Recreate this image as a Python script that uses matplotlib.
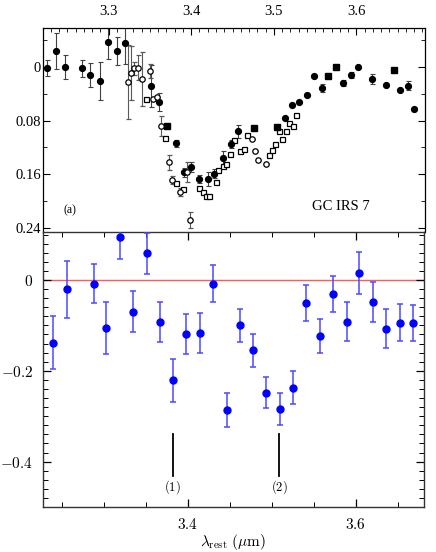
import matplotlib
matplotlib.use('Agg')
import matplotlib.pyplot as plt
from matplotlib.ticker import MultipleLocator, FixedLocator, FuncFormatter, FormatStrFormatter

plt.rcParams['mathtext.fontset'] = 'cm'

# --- top panel (a): GC IRS 7 optical depth, digitised ---
fc_lam = [3.225, 3.236, 3.247, 3.268, 3.278, 3.289, 3.299, 3.310, 3.320, 3.351, 3.361,
          3.381, 3.391, 3.400, 3.410, 3.420, 3.428, 3.438, 3.448, 3.457, 3.513, 3.522,
          3.530, 3.540, 3.549, 3.558, 3.584, 3.594, 3.602, 3.619, 3.636, 3.653, 3.662, 3.670]
fc_tau = [0.002, -0.024, 0.000, 0.002, 0.012, 0.021, -0.037, -0.024, -0.035, 0.028, 0.052,
          0.114, 0.157, 0.149, 0.167, 0.167, 0.159, 0.135, 0.115, 0.096, 0.076, 0.057,
          0.053, 0.042, 0.013, 0.032, 0.024, 0.012, 0.000, 0.018, 0.027, 0.035, 0.028, 0.063]
fc_err = [0.012, 0.027, 0.018, 0.013, 0.018, 0.029, 0.025, 0.021, 0.030, 0.031, 0.013,
          0.005, 0.007, 0.007, 0.006, 0.010, 0.007, 0.009, 0.006, 0.010, 0.0, 0.0,
          0.0, 0.0, 0.0, 0.006, 0.005, 0.005, 0.0, 0.007, 0.0, 0.0, 0.007, 0.0]

fs_lam = [3.371, 3.476, 3.504, 3.566, 3.575, 3.645]
fs_tau = [0.088, 0.091, 0.090, 0.013, 0.000, 0.005]

oc_lam = [3.323, 3.327, 3.331, 3.335, 3.340, 3.350, 3.354, 3.359, 3.363, 3.373, 3.377,
          3.386, 3.395, 3.399, 3.473, 3.477, 3.481, 3.490]
oc_tau = [0.023, 0.009, 0.002, 0.001, 0.018, 0.006, 0.048, 0.045, 0.088, 0.142, 0.168,
          0.186, 0.156, 0.228, 0.107, 0.125, 0.138, 0.144]
oc_err = [0.055, 0.040, 0.010, 0.019, 0.040, 0.010, 0.0, 0.0, 0.015, 0.011, 0.006,
          0.006, 0.015, 0.012, 0.0, 0.0, 0.0, 0.0]

os_lam = [3.345, 3.368, 3.381, 3.390, 3.409, 3.414, 3.418, 3.421, 3.430, 3.433, 3.438,
          3.442, 3.447, 3.452, 3.459, 3.464, 3.467, 3.494, 3.498, 3.502, 3.506, 3.510,
          3.515, 3.519, 3.523, 3.527]
os_tau = [0.048, 0.106, 0.173, 0.182, 0.181, 0.186, 0.192, 0.192, 0.172, 0.154, 0.147,
          0.144, 0.130, 0.109, 0.125, 0.123, 0.102, 0.132, 0.124, 0.115, 0.095, 0.107,
          0.096, 0.084, 0.088, 0.072]

# --- bottom panel: residual optical depth ---
lam = [3.240, 3.256, 3.288, 3.303, 3.319, 3.335, 3.351, 3.367, 3.382, 3.398, 3.414,
       3.430, 3.446, 3.462, 3.478, 3.493, 3.510, 3.525, 3.541, 3.557, 3.573, 3.589,
       3.604, 3.620, 3.636, 3.652, 3.668]
tau = [-0.138, -0.021, -0.008, -0.106, 0.095, -0.070, 0.059, -0.093, -0.221, -0.119, -0.117,
       -0.008, -0.286, -0.100, -0.155, -0.248, -0.284, -0.237, -0.051, -0.123, -0.031, -0.092,
       0.015, -0.048, -0.107, -0.094, -0.095]
err = [0.059, 0.062, 0.042, 0.058, 0.048, 0.045, 0.045, 0.044, 0.047, 0.045, 0.044,
       0.040, 0.037, 0.037, 0.036, 0.035, 0.036, 0.037, 0.040, 0.038, 0.040, 0.043,
       0.046, 0.044, 0.043, 0.040, 0.039]

feat_lam = [3.382, 3.509]
feat_lab = ['(1)', '(2)']

fig = plt.figure(figsize=(4.36, 5.52), dpi=100)
ax1 = fig.add_axes([0.0986, 0.5797, 0.8760, 0.3696])
ax2 = fig.add_axes([0.0986, 0.0815, 0.8738, 0.4982])

times = 'Liberation Serif'

# top panel
ax1.errorbar(fc_lam, fc_tau, yerr=fc_err, fmt='o', ms=4.2, color='black',
             ecolor='0.25', elinewidth=0.8, capsize=1.8, capthick=0.8)
ax1.errorbar(oc_lam, oc_tau, yerr=oc_err, fmt='o', ms=3.9, mfc='white', mec='black',
             mew=0.9, ecolor='0.35', elinewidth=0.8, capsize=1.8, capthick=0.8)
ax1.plot(os_lam, os_tau, 's', ms=3.6, mfc='white', mec='black', mew=0.9)
ax1.plot(fs_lam, fs_tau, 's', ms=3.8, color='black')

ax1.set_xlim(3.2205, 3.683)
ax1.set_ylim(0.246, -0.058)
ax1.xaxis.set_major_locator(MultipleLocator(0.1))
ax1.xaxis.set_minor_locator(MultipleLocator(0.01))
ax1.yaxis.set_major_locator(FixedLocator([0, 0.08, 0.16, 0.24]))
ax1.yaxis.set_minor_locator(MultipleLocator(0.04))
ax1.tick_params(axis='x', which='both', direction='in', top=True, bottom=False,
                labeltop=True, labelbottom=False, pad=7)
ax1.tick_params(axis='y', which='both', direction='in', left=True, right=True, pad=1.5)
ax1.tick_params(which='major', length=5, width=0.8)
ax1.tick_params(which='minor', length=3, width=0.6)
ax1.xaxis.set_major_formatter(FormatStrFormatter('%.1f'))
ax1.yaxis.set_major_formatter(FuncFormatter(lambda v, p: '0' if abs(v) < 1e-9 else '%g' % v))
for lab in ax1.get_xticklabels() + ax1.get_yticklabels():
    lab.set_family(times)
    lab.set_fontsize(10.5)
ax1.text(0.055, 0.09, '(a)', transform=ax1.transAxes, family=times, fontsize=8.5)
ax1.text(0.705, 0.11, 'GC IRS 7', transform=ax1.transAxes, family=times, fontsize=10.5)
for s in ax1.spines.values():
    s.set_linewidth(0.9)
ax1.spines['bottom'].set_visible(False)

# bottom panel
ax2.axhline(0, color='#ff5a5a', lw=1.0, zorder=1)
ax2.errorbar(lam, tau, yerr=err, fmt='o', ms=5, color='blue', ecolor='#4a4aff',
             elinewidth=1.1, capsize=2.4, capthick=1.1, zorder=3)
for x, t in zip(feat_lam, feat_lab):
    ax2.plot([x, x], [-0.34, -0.432], color='black', lw=1.3)
    ax2.text(x, -0.457, r'$\rm %s$' % t, ha='center', va='center', fontsize=9)

ax2.set_xlim(3.2275, 3.681)
ax2.set_ylim(-0.5, 0.1055)
ax2.xaxis.set_major_locator(FixedLocator([3.4, 3.6]))
ax2.xaxis.set_minor_locator(MultipleLocator(0.05))
ax2.yaxis.set_major_locator(MultipleLocator(0.2))
ax2.yaxis.set_minor_locator(MultipleLocator(0.02))
ax2.xaxis.set_major_formatter(FuncFormatter(lambda v, p: r'$%.1f$' % v))
ax2.yaxis.set_major_formatter(FuncFormatter(
    lambda v, p: r'$0$' if abs(v) < 1e-9 else r'$%.1f$' % v))
ax2.tick_params(which='both', direction='in', top=True, right=True, labelsize=11)
ax2.tick_params(axis='x', pad=7)
ax2.tick_params(axis='y', pad=7)
ax2.tick_params(which='major', length=6, width=0.9)
ax2.tick_params(which='minor', length=3.5, width=0.7)
for s in ax2.spines.values():
    s.set_linewidth(1.0)
    s.set_color('0.2')
ax2.set_xlabel(r'$\lambda_{\rm rest}\ (\mu{\rm m})$', fontsize=11, labelpad=0)

fig.savefig('out.png', dpi=100)
